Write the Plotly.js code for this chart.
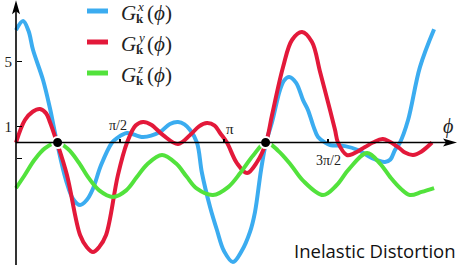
<!DOCTYPE html>
<html><head><meta charset="utf-8">
<script src="https://cdn.plot.ly/plotly-3.0.1.min.js"></script>
<style>html,body{margin:0;padding:0;background:#fff}#c{width:472px;height:265px}</style>
</head><body><div id="c"></div>
<script>
// phi in units of pi
const phiGx = [0.000,0.034,0.060,0.082,0.130,0.163,0.197,0.240,0.275,0.308,0.340,0.370,0.409,0.462,0.486,0.534,0.611,0.692,0.740,0.779,0.810,0.837,0.870,0.894,0.933,0.966,1.000,1.043,1.085,1.125,1.149,1.178,1.202,1.231,1.269,1.290,1.313,1.346,1.380,1.404,1.430,1.452,1.486,1.510,1.582,1.644,1.712,1.774,1.800,1.822,1.846,1.885,1.942,2.010];
const valGx = [6.94,7.50,6.90,5.71,3.86,2.13,0,-2.31,-3.50,-3.86,-3.55,-2.85,-1.39,0,0.28,0.59,0.34,0.65,1.15,1.27,1.12,0.77,0,-1.88,-3.98,-5.40,-6.70,-7.38,-6.70,-5.52,-4.29,-1.70,0,1.27,3.24,3.85,4.04,3.70,2.62,2.00,1.00,0.34,0,-0.15,-0.22,-0.46,-0.96,-1.20,-1.05,-0.46,0,1.39,4.66,7.00];

const phiGy = [0.000,0.043,0.080,0.115,0.145,0.163,0.197,0.245,0.308,0.340,0.370,0.400,0.433,0.490,0.534,0.575,0.611,0.650,0.707,0.779,0.837,0.880,0.918,0.955,0.981,1.014,1.062,1.111,1.159,1.202,1.231,1.284,1.327,1.375,1.423,1.462,1.510,1.534,1.548,1.591,1.620,1.678,1.716,1.764,1.837,1.870,1.909,1.950,2.000];
const valGy = [0,1.39,1.90,2.07,1.80,1.27,0,-2.01,-5.71,-6.45,-6.76,-6.45,-5.71,-2.01,0,1.05,1.27,1.10,0.46,-0.09,0.46,1.00,1.20,1.05,0.59,0,-1.27,-1.88,-1.20,0,1.70,4.66,6.33,6.82,6.20,4.35,2.00,0.77,0,-0.77,-0.70,-0.28,0,0.22,-0.28,-0.62,-0.77,-0.55,0];

const phiGz = [0.000,0.040,0.090,0.140,0.197,0.250,0.300,0.350,0.400,0.466,0.530,0.580,0.630,0.702,0.770,0.820,0.870,0.947,1.020,1.080,1.140,1.202,1.260,1.320,1.380,1.476,1.540,1.600,1.688,1.750,1.800,1.850,1.894,1.950,2.010];
const valGz = [-2.81,-2.05,-1.05,-0.35,0,-0.40,-1.20,-2.20,-2.95,-3.36,-2.95,-2.15,-1.35,-0.77,-1.30,-2.10,-2.85,-3.24,-2.75,-1.85,-0.80,0,-0.50,-1.35,-2.35,-3.24,-2.65,-1.65,-0.65,-1.30,-2.15,-2.85,-3.24,-3.05,-2.81];

const dotPhi = [0.2, 1.2];
const dotVal = [0, 0];

const yTickVals = [-1, 1, 5];
const yTickText = ['', '1', '5'];
const xTickVals = [0.5, 1, 1.5];
const xTickText = ['\u03c0/2', '\u03c0', '3\u03c0/2'];
const seriesSup = ['x', 'y', 'z'];
const seriesColors = ['#3bacf0', '#e3193a', '#52e23c'];

const W = 472, H = 265;
const yMin = -7.56, yMax = 8.80;
const xMin = -16/208, xMax = 456/208;
const px = x => x / W, py = y => 1 - y / H;
const serif = '"Liberation Serif", "DejaVu Serif", serif';

const lineStyle = c => ({color: c, width: 4, shape: 'spline', smoothing: 1, simplify: false});
const traces = [
  {x: phiGx, y: valGx, mode: 'lines', line: lineStyle(seriesColors[0]), hoverinfo: 'skip'},
  {x: phiGy, y: valGy, mode: 'lines', line: lineStyle(seriesColors[1]), hoverinfo: 'skip'},
  {x: phiGz, y: valGz, mode: 'lines', line: lineStyle(seriesColors[2]), hoverinfo: 'skip'},
  {x: dotPhi, y: dotVal, mode: 'markers', marker: {size: 11, color: '#000', line: {color: '#fff', width: 2}}, hoverinfo: 'skip'}
];

const annotations = [];
const shapes = [];
// legend
const legY = [11, 42, 73];
for (let i = 0; i < 3; i++) {
  const ly = legY[i];
  shapes.push({type: 'line', xref: 'paper', yref: 'paper', x0: px(87), x1: px(108), y0: py(ly), y1: py(ly), line: {color: seriesColors[i], width: 5}});
  const gy = ly + 2;
  annotations.push({xref: 'paper', yref: 'paper', x: px(119), y: py(gy), xanchor: 'left', yanchor: 'middle', showarrow: false, text: '<i>G</i>', font: {family: serif, size: 21, color: '#222'}});
  annotations.push({xref: 'paper', yref: 'paper', x: px(135), y: py(gy - 6), xanchor: 'left', yanchor: 'middle', showarrow: false, text: '<i>' + seriesSup[i] + '</i>', font: {family: serif, size: 13, color: '#222'}});
  annotations.push({xref: 'paper', yref: 'paper', x: px(134), y: py(gy + 6), xanchor: 'left', yanchor: 'middle', showarrow: false, text: '<b>k</b>', font: {family: serif, size: 13, color: '#222'}});
  annotations.push({xref: 'paper', yref: 'paper', x: px(145), y: py(gy), xanchor: 'left', yanchor: 'middle', showarrow: false, text: '(<i>\u03d5</i>)', font: {family: serif, size: 21, color: '#222'}});
}
// x tick labels
annotations.push({x: xTickVals[0], y: 0, xshift: -2, yshift: 8, xanchor: 'center', yanchor: 'bottom', showarrow: false, text: xTickText[0], font: {family: serif, size: 14, color: '#222'}});
annotations.push({x: xTickVals[1], y: 0, xshift: 6, yshift: 4, xanchor: 'center', yanchor: 'bottom', showarrow: false, text: xTickText[1], font: {family: serif, size: 15, color: '#222'}});
annotations.push({x: xTickVals[2], y: 0, xshift: 0, yshift: -8, xanchor: 'center', yanchor: 'top', showarrow: false, text: xTickText[2], font: {family: serif, size: 14, color: '#222'}});
// phi label
annotations.push({x: (448-16)/208, y: 0, yshift: 3, xanchor: 'center', yanchor: 'bottom', showarrow: false, text: '<i>\u03d5</i>', font: {family: serif, size: 20, color: '#222'}});
// caption
annotations.push({xref: 'paper', yref: 'paper', x: px(458), y: py(250), xanchor: 'right', yanchor: 'middle', showarrow: false, text: 'Inelastic Distortion', font: {family: '"Open Sans", sans-serif', size: 18.5, color: '#111'}});

// axes lines and arrowheads
const tipX = (457-16)/208;
shapes.push({type: 'line', xref: 'x', yref: 'y', x0: 0, x1: tipX - 6/208, y0: 0, y1: 0, line: {color: '#000', width: 1.6}});
shapes.push({type: 'path', xref: 'x', yref: 'y', xsizemode: 'pixel', ysizemode: 'pixel', xanchor: tipX, yanchor: 0, path: 'M0,0 L-14,4 L-11,0 L-14,-4 Z', fillcolor: '#000', line: {width: 0}});
shapes.push({type: 'line', xref: 'x', yref: 'y', x0: 0, x1: 0, y0: yMin, y1: yMax - 0.4, line: {color: '#000', width: 1.6}});
shapes.push({type: 'path', xref: 'x', yref: 'y', xsizemode: 'pixel', ysizemode: 'pixel', xanchor: 0, yanchor: yMax - 0.02, path: 'M0,0 L-4,-14 L0,-11 L4,-14 Z', fillcolor: '#000', line: {width: 0}});

const layout = {
  width: W, height: H,
  margin: {l: 0, r: 0, t: 0, b: 0},
  paper_bgcolor: '#fff', plot_bgcolor: 'rgba(0,0,0,0)',
  showlegend: false,
  xaxis: {range: [xMin, xMax], anchor: 'free', position: (0 - yMin) / (yMax - yMin), showgrid: false, zeroline: false, showline: false,
          ticks: 'inside', ticklen: 4, tickwidth: 1.2, tickcolor: '#000', tickvals: xTickVals, showticklabels: false, fixedrange: true},
  yaxis: {range: [yMin, yMax], anchor: 'free', position: (0 - xMin) / (xMax - xMin), showgrid: false, zeroline: false, showline: false,
          ticks: 'inside', ticklen: 5, tickwidth: 1.2, tickcolor: '#000', tickvals: yTickVals, ticktext: yTickText,
          tickfont: {family: serif, size: 15, color: '#222'}, ticklabelstandoff: 4, fixedrange: true},
  shapes: shapes,
  annotations: annotations
};
Plotly.newPlot('c', traces, layout, {displayModeBar: false, staticPlot: true});
</script></body></html>
